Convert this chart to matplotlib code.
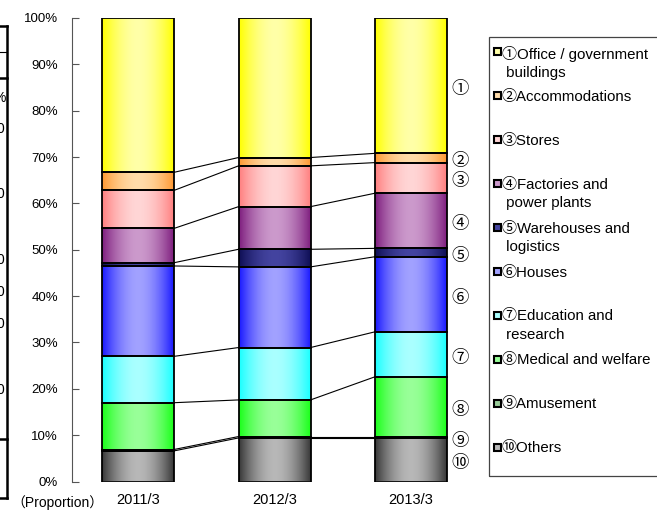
import numpy as np
import matplotlib as mpl
import matplotlib.pyplot as plt
from matplotlib.colors import to_rgb
from matplotlib.patches import Rectangle
from matplotlib.lines import Line2D

mpl.rcParams['font.family']=['Liberation Sans','Noto Sans CJK JP','DejaVu Sans']

years=['2011/3','2012/3','2013/3']
marks=['①','②','③','④','⑤','⑥','⑦','⑧','⑨','⑩']
names=['Office / government\nbuildings','Accommodations','Stores',
	'Factories and\npower plants','Warehouses and\nlogistics','Houses',
	'Education and\nresearch','Medical and welfare','Amusement','Others']

# proportions (%), top category first
office=[33.3,30.1,29.2]
accommodations=[3.9,1.8,2.0]
stores=[8.2,8.8,6.6]
factories=[7.4,9.2,11.9]
warehouses=[0.7,3.8,1.8]
houses=[19.5,17.4,16.2]
education=[10.0,11.3,9.7]
medical=[10.1,7.9,12.9]
amusement=[0.3,0.3,0.3]
others=[6.6,9.4,9.4]

series=[office,accommodations,stores,factories,warehouses,houses,
	education,medical,amusement,others]
# (edge colour, centre colour) of the horizontal gradient
shades=[('#ffff00','#ffffa8'),('#ff9933','#ffdcaa'),('#ff8080','#ffd6d6'),
	('#7f1f7f','#cc9acc'),('#0f0f55','#4444a0'),('#1a1aff','#a2a2ff'),
	('#1affff','#aaffff'),('#1aff1a','#99ff99'),('#2f7f2f','#99cc99'),
	('#383838','#b8b8b8')]

W,H=657,511
fig=plt.figure(figsize=(W/100,H/100),dpi=100)
def fx(x): return x/W
def fy(y): return 1-y/H

ax=fig.add_axes([fx(72),fy(481.5),(489-72)/W,463.5/H])

def gradient(edge,center,n=80):
	t=np.abs(np.linspace(-1,1,n))**1.8
	e=np.array(to_rgb(edge)); c=np.array(to_rgb(center))
	return (c+(e-c)*t[:,None])[None,:,:]

xpos=np.arange(len(years))
width=0.527
bottom=np.zeros(len(years))
rects={}
for i in range(len(series)-1,-1,-1):
	vals=np.array(series[i])
	bars=ax.bar(xpos,vals,width=width,bottom=bottom,facecolor='none',
		edgecolor='black',linewidth=1.3,zorder=3)
	for r in bars:
		ax.imshow(gradient(*shades[i]),extent=[r.get_x(),r.get_x()+r.get_width(),
			r.get_y(),r.get_y()+r.get_height()],aspect='auto',
			interpolation='bilinear',zorder=2)
	rects[i]=bars
	bottom=bottom+vals

# connector lines between segment tops of neighbouring bars
for i in range(1,len(series)):
	for j in range(len(years)-1):
		a=rects[i][j]; b=rects[i][j+1]
		ax.plot([a.get_x()+a.get_width(),b.get_x()],
			[a.get_y()+a.get_height(),b.get_y()+b.get_height()],
			color='black',lw=0.8,zorder=1)

# circled numbers beside the last bar
for i,m in enumerate(marks):
	r=rects[i][-1]
	ax.annotate(m,(r.get_x()+r.get_width(),r.get_y()+r.get_height()/2),
		xytext=(3,-2.5),textcoords='offset points',va='center',ha='left',
		fontsize=12.5)

ax.set_xlim(-0.4835,2.571)
ax.set_ylim(0,100)
ax.set_xticks(xpos)
ax.set_xticklabels(years,fontsize=10.5)
ax.set_yticks(np.arange(0,101,10))
ax.set_yticklabels(['{}%'.format(v) for v in range(0,101,10)],fontsize=9.5)
ax.tick_params(axis='y',direction='in',length=5,pad=10,color='#555555')
ax.tick_params(axis='x',length=0,pad=8)
for s in ['top','right','bottom']:
	ax.spines[s].set_visible(False)
ax.spines['left'].set_color('#555555')
ax.spines['left'].set_bounds(0,100)
ax.text(fx(57),fy(503),'（Proportion）',transform=fig.transFigure,
	ha='center',va='center',fontsize=10)

# legend drawn by hand so the square sits on the first line of each label
fig.add_artist(Rectangle((fx(489),fy(476)),(700-489)/W,(476-37)/H,
	transform=fig.transFigure,facecolor='none',edgecolor='#444444',lw=0.9))
for k in range(len(names)):
	yc=52+43.9*k
	fig.add_artist(Rectangle((fx(494),fy(yc+3.5)),7/W,7/H,transform=fig.transFigure,
		facecolor=shades[k][1],edgecolor='black',lw=1.5))
	fig.text(fx(502),fy(yc-6),marks[k]+names[k].replace('\n','\n '),
		fontsize=10.8,va='top',ha='left',linespacing=1.4)

# fragments of the neighbouring table cut by the left edge
for y0,y1,lw in [(26,26,1.8),(52,52,0.8),(78,78,1.8),(439,439,1.8),(498,498,1.8)]:
	fig.add_artist(Line2D([0,fx(7)],[fy(y0),fy(y1)],color='black',lw=lw))
fig.add_artist(Line2D([fx(7),fx(7)],[fy(26),fy(498)],color='black',lw=1.8))
for y,s in [(98,'%'),(129,'0'),(194,'0'),(260,'0'),(292,'0'),(324,'0'),(390,'0')]:
	fig.text(0,fy(y),s,ha='center',va='center',fontsize=10)

fig.savefig('out.png',dpi=100)
